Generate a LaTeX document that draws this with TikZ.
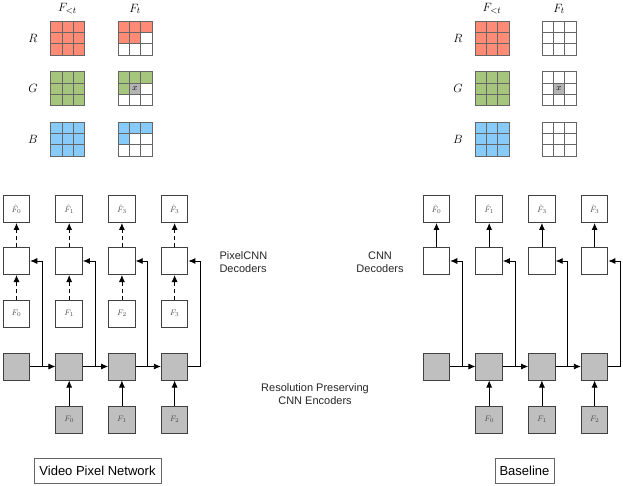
\documentclass[tikz,border=0pt]{standalone}
\usepackage{fontspec}
\setsansfont{Liberation Sans}
\usetikzlibrary{arrows.meta}
\definecolor{cred}{HTML}{FF8A75}
\definecolor{cgreen}{HTML}{A6C67E}
\definecolor{cblue}{HTML}{87CBFA}
\definecolor{cgray}{HTML}{B4B4B4}
\newcommand{\mygrid}[3]{%
  \foreach \col [count=\k from 0] in {#3} {%
    \pgfmathsetmacro{\rr}{floor(\k/3)}%
    \pgfmathsetmacro{\cc}{mod(\k,3)}%
    \pgfmathsetmacro{\xa}{#1-17+11.33*\cc}%
    \pgfmathsetmacro{\ya}{#2-17+11.33*\rr}%
    \filldraw[fill=\col, draw=black!60, line width=0.6pt] (\xa,\ya) rectangle ++(11.33,11.33);
  }%
}
\begin{document}
\begin{tikzpicture}[x=1pt,y=-1pt,
  box/.style={draw=black!75, line width=1pt, minimum width=26.5pt, minimum height=27pt, inner sep=0pt, font=\fontsize{8}{9}\selectfont, text=black!70},
  enc/.style={box, fill=black!25},
  arr/.style={-{Latex[length=7pt,width=6pt]}, line width=0.8pt},
  darr/.style={arr, dash pattern=on 4pt off 3pt},
  lab/.style={font=\sffamily\fontsize{11}{13}\selectfont, text=black!85},
  mlab/.style={font=\fontsize{13}{15}\selectfont},
  titlebox/.style={draw=black!60, line width=0.7pt, minimum height=25pt, inner sep=0pt, font=\sffamily\fontsize{13}{15}\selectfont}]
\useasboundingbox (0,0) rectangle (623,486);

% ---------- top grids ----------
\node[mlab] (hl1) at (67.5,9) {$F_{<t}$};
\node[mlab] (hl2) at (135,9) {$F_t$};
\node[mlab] (hr1) at (492,9) {$F_{<t}$};
\node[mlab] (hr2) at (559,9) {$F_t$};
\foreach \n/\yy in {R/38,G/88.5,B/139} {
  \node[mlab] (l\n) at (33,\yy) {$\n$};
  \node[mlab] (r\n) at (458,\yy) {$\n$};
}
\mygrid{67.5}{38}{cred,cred,cred,cred,cred,cred,cred,cred,cred}
\mygrid{135}{38}{cred,cred,cred,cred,cred,white,white,white,white}
\mygrid{67.5}{88.5}{cgreen,cgreen,cgreen,cgreen,cgreen,cgreen,cgreen,cgreen,cgreen}
\mygrid{135}{88.5}{cgreen,cgreen,cgreen,cgreen,cgray,white,white,white,white}
\mygrid{67.5}{139}{cblue,cblue,cblue,cblue,cblue,cblue,cblue,cblue,cblue}
\mygrid{135}{139}{cblue,cblue,cblue,cblue,white,white,white,white,white}
\node[font=\fontsize{9}{10}\selectfont] (xl) at (135,88.5) {$x$};

\mygrid{492}{38}{cred,cred,cred,cred,cred,cred,cred,cred,cred}
\mygrid{559}{38}{white,white,white,white,white,white,white,white,white}
\mygrid{492}{88.5}{cgreen,cgreen,cgreen,cgreen,cgreen,cgreen,cgreen,cgreen,cgreen}
\mygrid{559}{88.5}{white,white,white,white,cgray,white,white,white,white}
\mygrid{492}{139}{cblue,cblue,cblue,cblue,cblue,cblue,cblue,cblue,cblue}
\mygrid{559}{139}{white,white,white,white,white,white,white,white,white}
\node[font=\fontsize{9}{10}\selectfont] (xr) at (559,88.5) {$x$};

% ---------- left network ----------
\foreach \i/\hh/\ff in {0/0/0,1/1/1,2/3/2,3/3/3} {
  \pgfmathsetmacro{\cx}{16.5+52.7*\i}
  \node[box] (Lh\i) at (\cx,209) {$\hat{F}_{\hh}$};
  \node[box] (Ld\i) at (\cx,261) {};
  \node[box] (Lf\i) at (\cx,313.5) {$F_{\ff}$};
  \node[enc] (Le\i) at (\cx,366.5) {};
  \draw[darr] (Ld\i) -- (Lh\i);
  \draw[darr] (Lf\i) -- (Ld\i);
  \draw[arr] (Le\i.east) -- ++(12,0) |- (Ld\i.east);
}
\foreach \i/\ff in {1/0,2/1,3/2} {
  \pgfmathsetmacro{\cx}{16.5+52.7*\i}
  \node[enc] (Li\i) at (\cx,419.5) {$F_{\ff}$};
  \draw[arr] (Li\i) -- (Le\i);
}
\draw[arr] (Le0) -- (Le1);
\draw[arr] (Le1) -- (Le2);
\draw[arr] (Le2) -- (Le3);

% ---------- right network ----------
\foreach \i/\hh in {0/0,1/1,2/3,3/3} {
  \pgfmathsetmacro{\cx}{436.5+52.7*\i}
  \node[box] (Rh\i) at (\cx,209) {$\hat{F}_{\hh}$};
  \node[box] (Rd\i) at (\cx,261) {};
  \node[enc] (Re\i) at (\cx,366.5) {};
  \draw[arr] (Rd\i) -- (Rh\i);
  \draw[arr] (Re\i.east) -- ++(12,0) |- (Rd\i.east);
}
\foreach \i/\ff in {1/0,2/1,3/2} {
  \pgfmathsetmacro{\cx}{436.5+52.7*\i}
  \node[enc] (Ri\i) at (\cx,419.5) {$F_{\ff}$};
  \draw[arr] (Ri\i) -- (Re\i);
}
\draw[arr] (Re0) -- (Re1);
\draw[arr] (Re1) -- (Re2);
\draw[arr] (Re2) -- (Re3);

% ---------- labels ----------
\node[lab, anchor=west, align=left] (pcd) at (216,262.5) {PixelCNN\\Decoders};
\node[lab, align=center] (cd) at (380,262.5) {CNN\\Decoders};
\node[lab, align=center] (rp) at (315,394.5) {Resolution Preserving\\CNN Encoders};
\node[titlebox, minimum width=127pt] (vpn) at (97.5,470.5) {Video Pixel Network};
\node[titlebox, minimum width=59pt] (bl) at (524.5,470.5) {Baseline};
\end{tikzpicture}
\end{document}
